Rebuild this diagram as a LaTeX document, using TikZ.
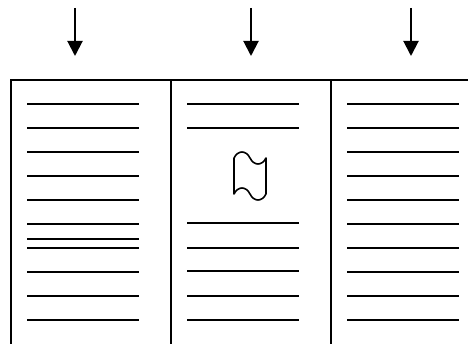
\documentclass[tikz,border=0pt]{standalone}
\usetikzlibrary{arrows.meta}
\begin{document}
\begin{tikzpicture}[x=1pt,y=-1pt,
  frame/.style={line width=2pt,black},
  txt/.style={line width=1.7pt,black},
  thick line/.style={line width=2.4pt,black},
  feed/.style={line width=2pt,-{Triangle[length=15pt,width=15pt]}},
  tape/.style={line width=1.6pt,line join=round}]
\useasboundingbox (0,0) rectangle (468,344);
\begin{scope}
\clip (0,0) rectangle (468,344);
% frame
\draw[frame] (11,80) rectangle (491,345);
\draw[frame] (171,80) -- (171,345);
\draw[frame] (331,80) -- (331,345);
% left column lines
\foreach \y in {104,128,152,176,200,224,248,272,296,320}
  \draw[txt] (27,\y) -- (139,\y);
\draw[thick line] (27,239) -- (139,239);
% middle column lines
\foreach \y in {104,128,223,248,271,296,320}
  \draw[txt] (187,\y) -- (299,\y);
% right column lines
\foreach \y in {104,128,152,176,200,224,248,272,296,320}
  \draw[txt] (347,\y) -- (459,\y);
% tape symbol
\draw[tape] (234,158) .. controls (238,150) and (246,150) .. (250,158)
  .. controls (254,166) and (262,166) .. (266,158)
  -- (266,194)
  .. controls (262,202) and (254,202) .. (250,194)
  .. controls (246,186) and (238,186) .. (234,194) -- cycle;
\end{scope}
% arrows
\coordinate (a1) at (75,8);  \coordinate (b1) at (75,56);
\coordinate (a2) at (251,8); \coordinate (b2) at (251,56);
\coordinate (a3) at (411,8); \coordinate (b3) at (411,56);
\draw[feed] (a1) -- (b1);
\draw[feed] (a2) -- (b2);
\draw[feed] (a3) -- (b3);
\end{tikzpicture}
\end{document}
